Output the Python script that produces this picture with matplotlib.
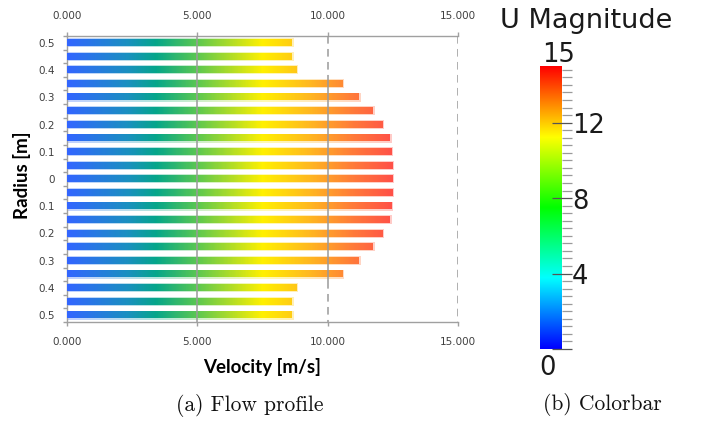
import numpy as np
import matplotlib
matplotlib.use("Agg")
import matplotlib.pyplot as plt
from matplotlib.colors import LinearSegmentedColormap, ListedColormap, Normalize, hsv_to_rgb

# Velocity profile across the pipe radius (top = +0.5 m, bottom = -0.5 m)
velocity = [8.62, 8.62, 8.80, 10.56, 11.19, 11.72, 12.10, 12.37, 12.44, 12.48, 12.48,
            12.48, 12.44, 12.37, 12.10, 11.72, 11.19, 10.56, 8.80, 8.62, 8.62]
radius_labels = ["0.5", "0.4", "0.3", "0.2", "0.1", "0", "0.1", "0.2", "0.3", "0.4", "0.5"]
velocity_ticks = [0, 5, 10, 15]
velocity_tick_labels = ["0.000", "5.000", "10.000", "15.000"]

# Colour legend for |U|
u_min, u_max = 0, 15
u_ticks = [0, 4, 8, 12]

W, H = 701, 421
fig = plt.figure(figsize=(W / 100, H / 100), dpi=100)

# ---------------- flow profile ----------------
ax = fig.add_axes([67 / W, 1 - 322 / H, 391 / W, 286 / H])

bar_nodes = [(0.0, "#3366ff"), (2.3, "#1a90c0"), (3.4, "#05a68a"), (5.0, "#5cc850"),
             (7.5, "#fff000"), (9.3, "#ffb820"), (11.0, "#ff7a3a"), (12.5, "#ff5048")]
bar_cmap = LinearSegmentedColormap.from_list(
    "bars", [(p / 12.5, c) for p, c in bar_nodes])
bar_norm = Normalize(0, 12.5)

h = 0.46
for i, v in enumerate(velocity):
    grad = np.linspace(0, v, 300)[None, :]
    # soft halo around each bar
    ax.imshow(grad, extent=[0, v + 0.06, i + h / 2 + 0.09, i - h / 2 - 0.09],
              cmap=bar_cmap, norm=bar_norm, aspect="auto", alpha=0.3,
              interpolation="bilinear", zorder=2)
    ax.imshow(grad, extent=[0, v, i + h / 2, i - h / 2],
              cmap=bar_cmap, norm=bar_norm, aspect="auto",
              interpolation="bilinear", zorder=3)

n = len(velocity)
ax.set_xlim(0, 15)
ax.set_ylim(n - 0.5, -0.5)

# vertical grid: solid where bars cross the line, dashed elsewhere
grid_kw = dict(color="#9a9a9a", lw=1.1, zorder=4)
for g in velocity_ticks[1:]:
    idx = [i for i, v in enumerate(velocity) if v > g]
    if idx:
        y0, y1 = min(idx) - 0.5, max(idx) + 0.5
        ax.plot([g, g], [y0, y1], solid_capstyle="butt", **grid_kw)
        if y0 > -0.5:
            ax.plot([g, g], [-0.5, y0], dashes=(5, 3.5), **grid_kw)
        if y1 < n - 0.5:
            ax.plot([g, g], [y1, n - 0.5], dashes=(5, 3.5), **grid_kw)
    else:
        ax.plot([g, g], [-0.5, n - 0.5], dashes=(5, 3.5), **grid_kw)

for side in ("top", "bottom", "left"):
    ax.spines[side].set_color("#a0a0a0")
    ax.spines[side].set_linewidth(1.0)
ax.spines["right"].set_visible(False)

ax.set_xticks(velocity_ticks)
ax.set_xticklabels(velocity_tick_labels)
ax.tick_params(axis="x", which="major", top=True, bottom=True, labeltop=True,
               labelbottom=True, direction="out", length=3, width=1.0,
               color="#a0a0a0", labelsize=7.5, labelcolor="#404040", pad=8)

ax.set_yticks(np.arange(0, n, 2))
ax.set_yticklabels(radius_labels)
ax.set_yticks(np.arange(-0.5, n, 1.0), minor=True)
ax.tick_params(axis="y", which="major", length=0, labelsize=7.5,
               labelcolor="#404040", pad=9)
ax.tick_params(axis="y", which="minor", length=3, width=1.0, color="#a0a0a0")

label_font = dict(family="Lato", weight="bold", size=13.5, color="black")
ax.set_xlabel("Velocity [m/s]", labelpad=8, **label_font)
fig.text(22 / W, 1 - 175 / H, "Radius [m]", rotation=90, ha="center", va="center",
         **label_font)

# ---------------- colour legend ----------------
cax = fig.add_axes([540 / W, 1 - 349 / H, 22 / W, 283 / H])
hues = np.linspace(2 / 3, 0, 256)
rainbow = ListedColormap(hsv_to_rgb(np.stack([hues, np.ones(256), np.ones(256)], axis=1)))
cax.imshow(np.linspace(u_min, u_max, 512)[:, None], extent=[0, 1, u_min, u_max],
           origin="lower", aspect="auto", cmap=rainbow, vmin=u_min, vmax=u_max)
cax.set_xlim(0, 1)
cax.set_ylim(u_min, u_max)
for s in cax.spines.values():
    s.set_visible(False)
cax.set_xticks([])
cax.yaxis.tick_right()
cax.set_yticks(u_ticks)
minor = [t for t in np.round(np.arange(u_min, u_max, 0.4), 2)
         if all(abs(t - m) > 1e-6 for m in u_ticks)]
cax.set_yticks(minor, minor=True)
cax.tick_params(axis="y", which="major", direction="inout", length=14.4, width=0.9,
                color="#555555", labelright=False, labelleft=False)
cax.tick_params(axis="y", which="minor", direction="out", length=7.2, width=0.9,
                color="#9a9a9a")

cb_font = dict(family="DejaVu Sans", weight="normal", color="#1a1a1a")
ytr = cax.get_yaxis_transform()
for t in u_ticks[1:]:
    cax.text(1.45, t - 0.2, str(t), transform=ytr, ha="left", va="center",
             fontsize=18.5, **cb_font)
cax.text(0.1, u_max + 0.58, str(u_max), transform=ytr, ha="left", va="center",
         fontsize=18.5, **cb_font)
cax.text(-0.05, u_min - 1.0, str(u_min), transform=ytr, ha="left", va="center",
         fontsize=18.5, **cb_font)
fig.text(500 / W, 1 - 28 / H, "U Magnitude", ha="left", va="baseline",
         fontsize=19.5, **cb_font)

# ---------------- captions ----------------
cap_font = dict(family="cmr10", size=15.5, color="#111111")
fig.text(250 / W, 1 - 405.5 / H, "(a) Flow profile", ha="center", va="center", **cap_font)
fig.text(602 / W, 1 - 405 / H, "(b) Colorbar", ha="center", va="center", **cap_font)

fig.savefig("out.png", dpi=100, facecolor="white")
